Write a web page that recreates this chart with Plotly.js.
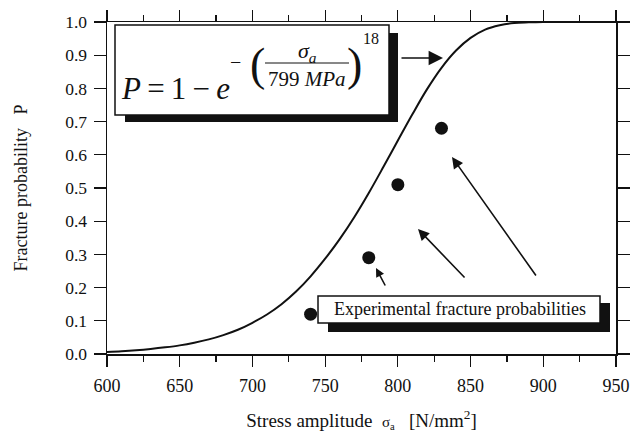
<!DOCTYPE html>
<html>
<head>
<meta charset="utf-8">
<script src="https://cdn.plot.ly/plotly-3.0.1.min.js"></script>
<style>html,body{margin:0;padding:0;background:#fff;}</style>
</head>
<body>
<div id="chart" style="width:632px;height:433px;"></div>
<script>
// Weibull fit curve
var curveStress = [600,610,620,630,640,650,660,670,680,690,700,710,720,730,740,750,760,770,780,790,800,810,820,830,840,850,860,870,880,890,900,950];
var curveProb   = [0.006,0.008,0.011,0.015,0.020,0.026,0.034,0.044,0.057,0.073,0.094,0.119,0.150,0.188,0.234,0.287,0.346,0.412,0.485,0.563,0.643,0.722,0.797,0.862,0.914,0.952,0.977,0.990,0.997,0.999,1.0,1.0];
// Experimental fracture probabilities
var expStress = [740, 780, 800, 830];
var expProb   = [0.12, 0.29, 0.51, 0.68];
// Axis ticks
var xTicks = [600,650,700,750,800,850,900,950];
var yTicks = [0,0.1,0.2,0.3,0.4,0.5,0.6,0.7,0.8,0.9,1.0];
var yTickText = ["0.0","0.1","0.2","0.3","0.4","0.5","0.6","0.7","0.8","0.9","1.0"];

var W = 632, H = 433;
var M = {l:107, r:16, t:22, b:79};
var PW = W - M.l - M.r, PH = H - M.t - M.b;
function px(x){ return (x - M.l) / PW; }
function py(y){ return (H - M.b - y) / PH; }

var serif = "Liberation Serif, Times New Roman, serif";
var ink = "#111";

var traces = [
  {x: curveStress, y: curveProb, type: "scatter", mode: "lines",
   line: {color: ink, width: 2, shape: "spline"}, hoverinfo: "skip"},
  {x: expStress, y: expProb, type: "scatter", mode: "markers",
   marker: {color: ink, size: 13, line: {width: 0}}, hoverinfo: "skip"}
];

function rect(x0,y0,x1,y1,fill,lw){
  return {type:"rect", xref:"paper", yref:"paper", x0:px(x0), x1:px(x1), y0:py(y1), y1:py(y0),
          fillcolor:fill, line:{color:ink, width:lw}, layer:"above"};
}

var shapes = [
  rect(125,33,398,122,ink,0),
  rect(115,25,389,115,"#fff",1.5),
  {type:"line", xref:"paper", yref:"paper", x0:px(265), x1:px(349), y0:py(63), y1:py(63),
   line:{color:ink, width:1}, layer:"above"},
  rect(328,303,610,332,ink,0),
  rect(318,296,600,323,"#fff",1.5)
];

function txt(text, x, y, size, xa){
  return {text:text, xref:"paper", yref:"paper", x:px(x), y:py(y), showarrow:false,
          xanchor:xa||"center", yanchor:"middle", font:{family:serif, size:size, color:ink}};
}
function arrow(tx, ty, ax, ay, size){
  return {text:"", xref:"paper", yref:"paper", x:px(tx), y:py(ty), ax:ax, ay:ay,
          showarrow:true, arrowhead:2, arrowsize:size, arrowwidth:1.6, arrowcolor:ink, standoff:0};
}

var annotations = [
  txt("<i>P</i>\u2009=\u20091\u2009−\u2009<i>e</i>", 119, 89, 31, "left"),
  txt("−", 235, 62, 20),
  txt("(", 257, 64, 46),
  txt(")", 354, 64, 46),
  txt("<i>σ</i><sub><i>a</i></sub>", 307, 52, 22),
  txt("799 <i>MPa</i>", 307, 79, 21),
  txt("18", 371, 39, 16),
  txt("Experimental fracture probabilities", 460, 309, 18),
  arrow(443, 58, -43, 0, 1.8),
  arrow(376, 268, 10, 19, 1.1),
  arrow(418, 229, 48, 50, 1.4),
  arrow(452, 157, 85, 120, 1.4)
];

var layout = {
  width: W, height: H,
  margin: M,
  paper_bgcolor: "#fff", plot_bgcolor: "#fff",
  showlegend: false,
  font: {family: serif, size: 17, color: ink},
  xaxis: {
    range: [600, 950], tickvals: xTicks, ticks: "outside", ticklen: 11, tickwidth: 1.2,
    tickcolor: ink, showline: true, linecolor: ink, linewidth: 1.5, mirror: "ticks",
    showgrid: false, zeroline: false, ticklabelstandoff: 4,
    minor: {dtick: 25, tick0: 600, ticks: "outside", ticklen: 6, tickwidth: 1.2, tickcolor: ink, showgrid: false},
    tickfont: {family: serif, size: 18, color: ink},
    title: {text: "Stress amplitude  <span style=\"font-size:15px\">σ<sub>a</sub></span>   [N/mm<sup>2</sup>]", standoff: 18,
            font: {family: serif, size: 19, color: ink}}
  },
  yaxis: {
    range: [0, 1.0], tickvals: yTicks, ticktext: yTickText, ticks: "outside", ticklen: 12, tickwidth: 1.2,
    tickcolor: ink, showline: true, linecolor: ink, linewidth: 1.5, mirror: "ticks",
    showgrid: false, zeroline: false, ticklabelstandoff: 3,
    tickfont: {family: serif, size: 17.5, color: ink},
    title: {text: "Fracture probability\u00a0\u00a0\u00a0P", standoff: 33,
            font: {family: serif, size: 18, color: ink}}
  },
  shapes: shapes,
  annotations: annotations
};

Plotly.newPlot("chart", traces, layout, {staticPlot: true, displayModeBar: false});
</script>
</body>
</html>
